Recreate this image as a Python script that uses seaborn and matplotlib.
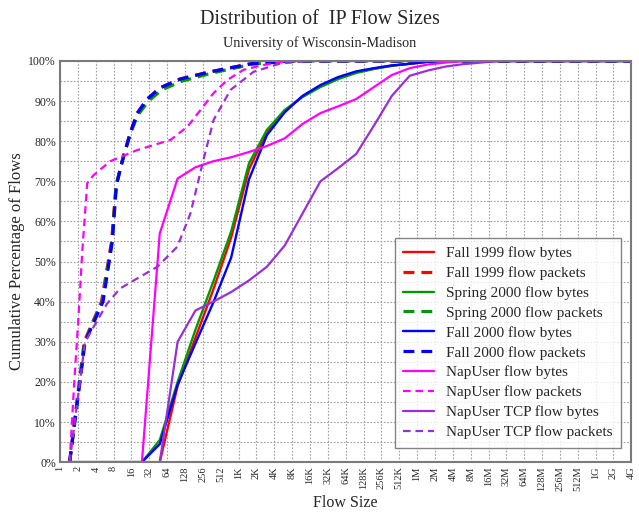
import matplotlib
matplotlib.use("Agg")
import matplotlib.pyplot as plt
import matplotlib.ticker as mticker
import seaborn as sns
import pandas as pd

# ------------------------------------------------------------
# data
# ------------------------------------------------------------
tick_labels = ["1", "2", "4", "8", "16", "32", "64", "128", "256", "512",
               "1K", "2K", "4K", "8K", "16K", "32K", "64K", "128K", "256K", "512K",
               "1M", "2M", "4M", "8M", "16M", "32M", "64M", "128M", "256M", "512M",
               "1G", "2G", "4G"]

# byte curves are sampled at the bin centres (1.5 * 2^k), last point at 4G
byte_sizes = [1.5, 3, 6, 12, 24, 48, 96, 192, 384, 768, 1536, 3072, 6144,
              12288, 24576, 49152, 98304, 196608, 393216, 786432, 1572864,
              3145728, 6291456, 12582912, 25165824, 4294967296]

fall99_bytes = [0, 0, 0, 0, 0, 0, 19, 31, 43, 56, 73, 82.3, 87.5, 91.2, 93.8,
                95.8, 97.2, 98.1, 98.8, 99.3, 99.8, 100, 100, 100, 100, 100]
spring00_bytes = [0, 0, 0, 0, 0, 5.5, 20, 33, 45, 57.5, 74.5, 82.8, 87.8, 91,
                  93.5, 95.5, 97, 98, 98.8, 99.3, 99.8, 100, 100, 100, 100, 100]
fall00_bytes = [0, 0, 0, 0, 0, 4.5, 19.3, 29.6, 39.8, 51, 70.5, 81.5, 87.2,
                91.3, 94, 96, 97.4, 98.2, 98.9, 99.3, 99.8, 100, 100, 100, 100, 100]
nap_bytes = [0, 0, 0, 0, 0, 57, 70.7, 73.5, 75, 76, 77.3, 78.8, 80.7, 84.3,
             87, 88.7, 90.5, 93.5, 96.5, 98.2, 99.1, 99.6, 100, 100, 100, 100]
naptcp_bytes = [0, 0, 0, 0, 0, 0, 30, 37.8, 40, 42.4, 45.3, 48.7, 54, 62, 70,
                73.3, 76.8, 83.9, 91.3, 96.3, 97.6, 98.6, 99.2, 99.6, 100, 100]

fall99_pkt_x = [1.45, 2.55, 5.0, 7.4, 8.8, 11.1, 15.1, 20, 29.4, 48, 105, 340,
                1640, 7600, 4294967296]
fall99_pkt_y = [0, 30, 40, 55, 69, 75, 82, 87, 90.5, 93.3, 95.5, 97.3, 99.3, 100, 100]
spring00_pkt_x = [1.45, 2.6, 5.15, 7.5, 8.85, 11.2, 15.4, 20.5, 31, 52, 115,
                  370, 1750, 7800, 4294967296]
spring00_pkt_y = [0, 30, 40, 55, 69, 75, 82, 86.5, 90, 92.8, 95, 97, 99.2, 100, 100]
fall00_pkt_x = [1.45, 2.64, 5.3, 7.6, 8.9, 11.2, 15.3, 20.1, 29.6, 49, 107,
                345, 1660, 7640, 4294967296]
fall00_pkt_y = [0, 30, 40, 55, 69, 75, 82, 87, 90.5, 93.3, 95.5, 97.3, 99.3, 100, 100]
nap_pkt_x = [1.45, 1.73, 2.04, 2.38, 2.87, 3.66, 7.0, 20.1, 72.5, 140, 234,
             388, 666, 1243, 2702, 7643, 4294967296]
nap_pkt_y = [0, 19.6, 36, 53, 69.5, 71.5, 75, 77.8, 80.3, 83.6, 87.8, 92,
             95.3, 97.8, 99, 100, 100]
naptcp_pkt_x = [1.45, 2.64, 6.2, 10.3, 43.7, 95, 158, 261, 388, 750, 1833,
                5256, 16800, 4294967296]
naptcp_pkt_y = [0, 30, 39.5, 43.3, 48.7, 53.7, 62, 75.3, 85.3, 92.8, 97.3,
                99.4, 100, 100]

RED, GREEN, BLUE = "#ff0000", "#009a00", "#0000ff"
MAGENTA, PURPLE = "#ff00ff", "#9a2fd6"

series = [
    ("Fall 1999 flow bytes", byte_sizes, fall99_bytes, RED, "-", 1.7),
    ("Fall 1999 flow packets", fall99_pkt_x, fall99_pkt_y, RED, "--", 2.3),
    ("Spring 2000 flow bytes", byte_sizes, spring00_bytes, GREEN, "-", 1.7),
    ("Spring 2000 flow packets", spring00_pkt_x, spring00_pkt_y, GREEN, "--", 2.3),
    ("Fall 2000 flow bytes", byte_sizes, fall00_bytes, BLUE, "-", 1.7),
    ("Fall 2000 flow packets", fall00_pkt_x, fall00_pkt_y, BLUE, "--", 2.3),
    ("NapUser flow bytes", byte_sizes, nap_bytes, MAGENTA, "-", 1.6),
    ("NapUser flow packets", nap_pkt_x, nap_pkt_y, MAGENTA, "--", 1.6),
    ("NapUser TCP flow bytes", byte_sizes, naptcp_bytes, PURPLE, "-", 1.6),
    ("NapUser TCP flow packets", naptcp_pkt_x, naptcp_pkt_y, PURPLE, "--", 1.6),
]

# ------------------------------------------------------------
# plot
# ------------------------------------------------------------
sns.set_style("white")
plt.rcParams["font.family"] = ["Liberation Serif", "DejaVu Serif"]

fig = plt.figure(figsize=(6.39, 5.21), dpi=100)
ax = fig.add_axes([0.094, 0.113, 0.894, 0.770])

for label, xs, ys, color, ls, lw in series:
    df = pd.DataFrame({"size": xs, "pct": ys})
    line_kw = dict(dashes=(3.4, 2.2)) if ls == "--" else {}
    sns.lineplot(data=df, x="size", y="pct", ax=ax, color=color, lw=lw,
                 label=label, estimator=None, sort=False, **line_kw)

ax.set_xscale("log", base=2)
ax.set_xlim(1, 2 ** 32)
ax.set_ylim(0, 100)

ax.xaxis.set_major_locator(mticker.FixedLocator([2 ** i for i in range(len(tick_labels))]))
ax.xaxis.set_major_formatter(mticker.FixedFormatter(tick_labels))
ax.xaxis.set_minor_locator(mticker.NullLocator())
ax.yaxis.set_major_locator(mticker.MultipleLocator(10))
ax.yaxis.set_minor_locator(mticker.MultipleLocator(5))
ax.yaxis.set_major_formatter(mticker.FuncFormatter(lambda v, p: f"{v:.0f}%"))

ax.tick_params(axis="x", which="major", direction="in", length=4, width=0.8,
               color="#555555", labelsize=7.5, labelrotation=90, pad=3)
ax.tick_params(axis="y", which="both", direction="in", length=4, width=0.8,
               color="#555555", labelsize=8.5, pad=3)

ax.grid(True, which="major", axis="x", color="#a0a0a0", linestyle=(0, (1.5, 1.5)), lw=0.8)
ax.grid(True, which="both", axis="y", color="#a0a0a0", linestyle=(0, (1.5, 1.5)), lw=0.8)
ax.set_axisbelow(True)

for sp in ax.spines.values():
    sp.set_color("#7a7a7a")
    sp.set_linewidth(1.5)

ax.set_xlabel("Flow Size", fontsize=11.5, labelpad=3)
ax.set_ylabel("Cumulative Percentage of Flows", fontsize=12, labelpad=2)

fig.text(0.5, 0.962, "Distribution of  IP Flow Sizes", ha="center", va="center", fontsize=14.5)
fig.text(0.5, 0.918, "University of Wisconsin-Madison", ha="center", va="center", fontsize=10.3)

leg = ax.legend(loc="lower right", bbox_to_anchor=(0.99, 0.025), fontsize=11,
                frameon=True, fancybox=False, edgecolor="#666666",
                handlelength=2.0, labelspacing=0.4, borderpad=0.55,
                handletextpad=0.8, borderaxespad=0.3)
leg.get_frame().set_linewidth(1.0)

fig.savefig("out.png", dpi=100)
